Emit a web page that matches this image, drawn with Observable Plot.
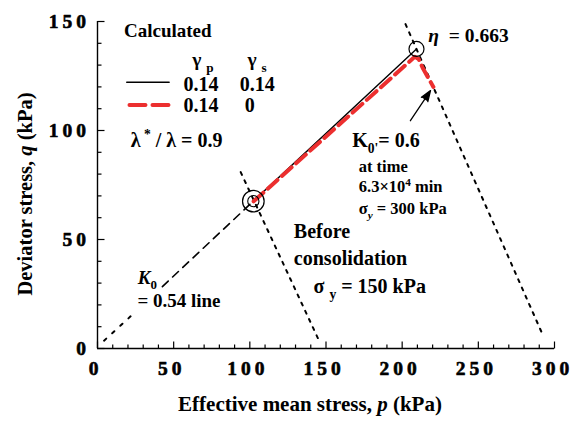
<!DOCTYPE html>
<html><head><meta charset="utf-8">
<script src="https://cdn.jsdelivr.net/npm/d3@7"></script>
<script src="https://cdn.jsdelivr.net/npm/@observablehq/plot@0.6"></script>
<style>
html,body{margin:0;padding:0;background:#fff;}
#chart svg{display:block;}
</style></head><body><div id="chart"></div>
<script>
// ---- axis ticks ----
const pTickLabels = [0, 50, 100, 150, 200, 250, 300];
const qTickLabels = [0, 50, 100, 150];
const pMinorTicks = d3.range(0, 301, 10).filter(v => v % 50 !== 0);
const qMinorTicks = d3.range(0, 151, 10).filter(v => v % 50 !== 0);

// ---- calculated stress paths (p, q in kPa) ----
const solidP = [102.3, 209.4];          // gamma_p = 0.14, gamma_s = 0.14
const solidQ = [67.6, 137.4];
const dashedP = [102.5, 208.3, 210.8, 213.7, 220.5]; // gamma_p = 0.14, gamma_s = 0
const dashedQ = [67.5, 133.8, 132.8, 128.4, 120.0];

// ---- K0 = 0.54 line ----
const k0LowP = [4.3, 24.0];
const k0LowQ = [3.6, 16.2];
const k0HighP = [42.6, 100.0];
const k0HighQ = [28.4, 66.1];

// ---- yield surfaces (dotted) ----
const yield150P = [94.0, 145.3];
const yield150Q = [80.9, 3.8];
const yield300P = [202.2, 292.9];
const yield300Q = [148.8, 5.3];

// ---- marked states ----
const startState = {p: 102.3, q: 67.6};
const endState = {p: 209.4, q: 137.4};
const arrowSpec = {p1: 205.4, q1: 104.5, p2: 218.6, q2: 118.3};

// ---- legend samples ----
const legendSolidP = [19.2, 47.0], legendSolidQ = [122.1, 122.1];
const legendDashP = [21.0, 47.6], legendDashQ = [111.7, 111.7];

// ---- annotations (text markup: _{sub} ^{sup} ~{italic}) ----
const notes = [
  {p: 17.4, q: 145.7, text: "Calculated", size: 19},
  {p: 62.2, q: 132.6, text: "γ _{p}", size: 19.5},
  {p: 98.4, q: 132.6, text: "γ _{s}", size: 19.5},
  {p: 56.4, q: 121.2, text: "0.14", size: 20},
  {p: 93.3, q: 121.2, text: "0.14", size: 20},
  {p: 56.4, q: 111.5, text: "0.14", size: 20},
  {p: 96.6, q: 111.5, text: "0", size: 20},
  {p: 21.8, q: 95.4, text: "λ^{ *} / λ = 0.9", size: 20},
  {p: 217.2, q: 143.4, text: "~{η}  = 0.663", size: 19.5},
  {p: 167.2, q: 95.4, text: "K_{0'}= 0.6", size: 20},
  {p: 171.5, q: 83.2, text: "at time", size: 16.5},
  {p: 171.5, q: 74.0, text: "6.3×10^{4} min", size: 16.5},
  {p: 171.5, q: 64.2, text: "σ_~{y} = 300 kPa", size: 16.5},
  {p: 128.9, q: 53.4, text: "Before", size: 20},
  {p: 128.9, q: 41.3, text: "consolidation", size: 20},
  {p: 141.8, q: 28.2, text: "σ _{y} = 150 kPa", size: 20},
  {p: 26.4, q: 32.6, text: "~{K}_{0}", size: 19},
  {p: 26.2, q: 22.0, text: "= 0.54 line", size: 19}
];
const xTitle = "Effective mean stress, ~{p} (kPa)";
const yTitle = "Deviator stress, ~{q} (kPa)";

const RED = "#ec2f2f";
const TICK_FONT = "Liberation Serif, Times New Roman, serif";
const tickUp = len => ({draw(ctx) { ctx.moveTo(0, 0); ctx.lineTo(0, -len); }});
const tickRight = len => ({draw(ctx) { ctx.moveTo(0, 0); ctx.lineTo(len, 0); }});
const zip = (P, Q) => P.map((p, i) => ({p, q: Q[i]}));

const chart = Plot.plot({
  width: 580, height: 424,
  marginLeft: 97, marginRight: 26, marginTop: 21, marginBottom: 76,
  x: {domain: [0, 300], axis: null},
  y: {domain: [0, 150], axis: null},
  style: {fontFamily: "'Liberation Serif', 'Times New Roman', serif", fontWeight: "bold", background: "#fff", overflow: "visible", color: "black"},
  marks: [
    // yield surfaces
    Plot.line(zip(yield150P, yield150Q), {x: "p", y: "q", stroke: "black", strokeWidth: 2, strokeDasharray: "3,6"}),
    Plot.line(zip(yield300P, yield300Q), {x: "p", y: "q", stroke: "black", strokeWidth: 2, strokeDasharray: "3,6"}),
    // K0 line
    Plot.line(zip(k0LowP, k0LowQ), {x: "p", y: "q", stroke: "black", strokeWidth: 2, strokeDasharray: "3,8"}),
    Plot.line(zip(k0HighP, k0HighQ), {x: "p", y: "q", stroke: "black", strokeWidth: 1.6, strokeDasharray: "8,6"}),
    // calculated paths
    Plot.line(zip(solidP, solidQ), {x: "p", y: "q", stroke: "black", strokeWidth: 1.4}),
    Plot.line(zip(dashedP, dashedQ), {x: "p", y: "q", stroke: RED, strokeWidth: 4, strokeDasharray: "13,6"}),
    // state markers
    Plot.dot([startState], {x: "p", y: "q", r: 10.8, stroke: "black", fill: "none", strokeWidth: 1.2}),
    Plot.dot([startState], {x: "p", y: "q", r: 5.6, stroke: "black", fill: "none", strokeWidth: 1.1}),
    Plot.dot([endState], {x: "p", y: "q", r: 7.5, stroke: "black", fill: "none", strokeWidth: 1.2}),
    // arrow
    Plot.arrow([arrowSpec], {x1: "p1", y1: "q1", x2: "p2", y2: "q2", headLength: 13, headAngle: 40, stroke: "black", fill: "black", strokeWidth: 1.3}),
    // legend
    Plot.line(zip(legendSolidP, legendSolidQ), {x: "p", y: "q", stroke: "black", strokeWidth: 1.5}),
    Plot.line(zip(legendDashP, legendDashQ), {x: "p", y: "q", stroke: RED, strokeWidth: 4, strokeDasharray: "16,7"}),
    // annotations
    Plot.text(notes, {x: "p", y: "q", text: "text", fontSize: "size", textAnchor: "start", fill: "black"}),
    // axes
    Plot.ruleY([0], {x1: 0, x2: 300, stroke: "black", strokeWidth: 1.4}),
    Plot.ruleX([0], {y1: 0, y2: 150, stroke: "black", strokeWidth: 1.4}),
    Plot.dot(pTickLabels, {x: d => d, y: () => 0, symbol: tickUp(7), stroke: "black", fill: "none", strokeWidth: 1.2}),
    Plot.dot(pMinorTicks, {x: d => d, y: () => 0, symbol: tickUp(4), stroke: "black", fill: "none", strokeWidth: 1.2}),
    Plot.dot(qTickLabels, {x: () => 0, y: d => d, symbol: tickRight(7), stroke: "black", fill: "none", strokeWidth: 1.2}),
    Plot.dot(qMinorTicks, {x: () => 0, y: d => d, symbol: tickRight(4), stroke: "black", fill: "none", strokeWidth: 1.2}),
    Plot.text(pTickLabels, {x: d => d, y: () => 0, dx: -2, dy: 20, text: d => String(d), fontSize: 19.5, fontFamily: TICK_FONT, fill: "black", stroke: "black", strokeWidth: 0.6}),
    Plot.text(qTickLabels, {x: () => 0, y: d => d, dx: -7.5, text: d => String(d), textAnchor: "end", fontSize: 19.5, fontFamily: TICK_FONT, fill: "black", stroke: "black", strokeWidth: 0.6}),
    Plot.text([xTitle], {frameAnchor: "bottom", dx: -16, dy: 62, text: d => d, fontSize: 21, fill: "black"}),
    Plot.text([yTitle], {frameAnchor: "left", textAnchor: "middle", dx: -72, dy: 9, rotate: -90, text: d => d, fontSize: 20.5, fill: "black"})
  ]
});
document.getElementById("chart").appendChild(chart);

// widen the tick-label digits as in the original figure
chart.querySelectorAll("g").forEach(g => {
  if (g.getAttribute("font-family") === TICK_FONT) {
    g.querySelectorAll("text").forEach(t => {
      t.setAttribute("letter-spacing", "4");
      t.style.letterSpacing = "4px";
      t.setAttribute("font-weight", "bold");
    });
  }
});

// convert simple markup into tspans (sub/superscripts, italics)
const NS = "http://www.w3.org/2000/svg";
function rich(el) {
  const s = el.textContent;
  if (!/[_^~]+\{/.test(s)) return;
  while (el.firstChild) el.removeChild(el.firstChild);
  const parts = [];
  const re = /([_^~]+)\{([^}]*)\}/g;
  let last = 0, m;
  while ((m = re.exec(s))) {
    if (m.index > last) parts.push({t: s.slice(last, m.index), f: ""});
    parts.push({t: m[2], f: m[1]});
    last = re.lastIndex;
  }
  if (last < s.length) parts.push({t: s.slice(last), f: ""});
  let cur = 0;
  for (const part of parts) {
    const ts = document.createElementNS(NS, "tspan");
    const sub = part.f.includes("_"), sup = part.f.includes("^");
    const size = (sub || sup) ? 0.68 : 1;
    const target = sub ? 0.3 : sup ? -0.42 : 0;
    if (target !== cur) ts.setAttribute("dy", ((target - cur) / size).toFixed(3) + "em");
    cur = target;
    if (size !== 1) ts.setAttribute("font-size", size + "em");
    if (part.f.includes("~")) ts.setAttribute("font-style", "italic");
    ts.textContent = part.t;
    el.appendChild(ts);
  }
}
chart.querySelectorAll("text").forEach(rich);
</script></body></html>
